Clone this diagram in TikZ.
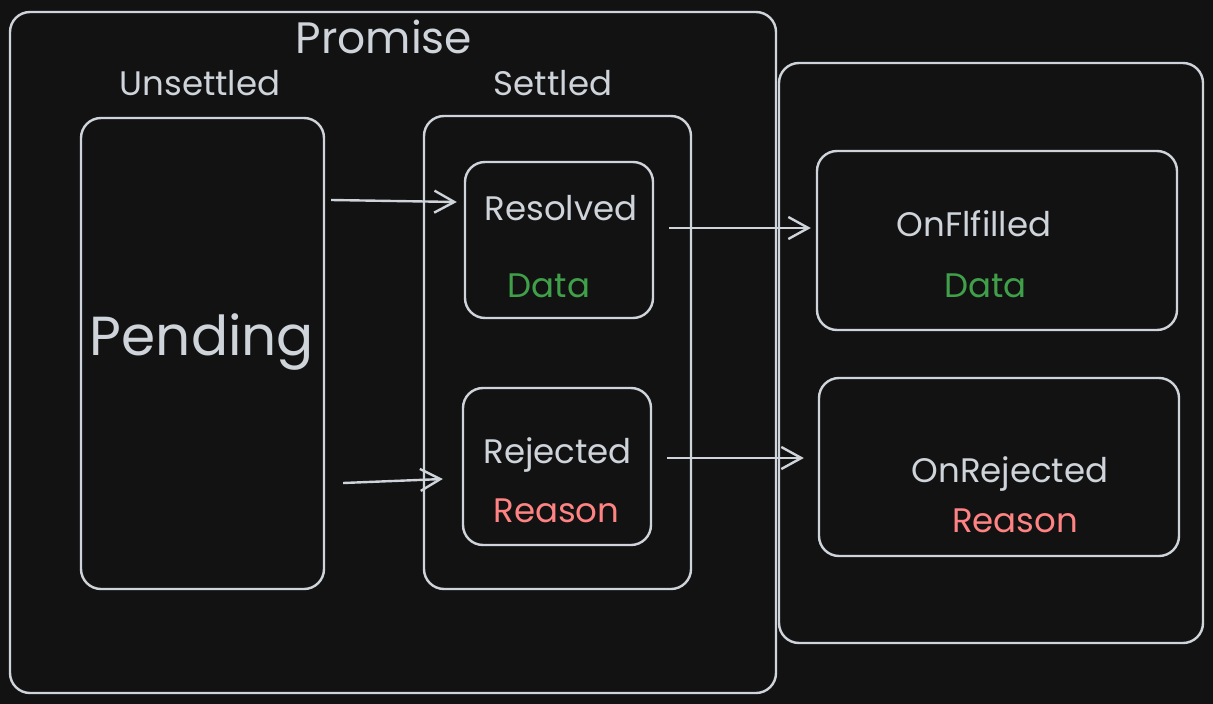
\documentclass[tikz,border=0pt]{standalone}
\usepackage{fontspec}
\setmainfont{Poppins}
\usetikzlibrary{arrows.meta,calc}
\definecolor{bg}{HTML}{121212}
\definecolor{ink}{HTML}{CED4DA}
\definecolor{okgreen}{HTML}{40A04A}
\definecolor{errred}{HTML}{FF8383}
\begin{document}
\begin{tikzpicture}[x=1pt,y=-1pt,
  box/.style={draw=ink, line width=2.4pt, rounded corners=20pt, inner sep=0pt},
  txt/.style={text=ink, anchor=base, inner sep=0pt, font=\fontsize{34}{40}\selectfont},
  big/.style={txt, font=\fontsize{44}{52}\selectfont},
  huge/.style={txt, font=\fontsize{55}{64}\selectfont},
  good/.style={txt, text=okgreen},
  bad/.style={txt, text=errred},
  arr/.style={draw=ink, line width=2.4pt, -{Straight Barb[length=20pt,width=22pt,line width=2.4pt]}}]
\fill[bg] (0,0) rectangle (1213,704);
\useasboundingbox (0,0) rectangle (1213,704);
% containers
\node[box, minimum width=766pt, minimum height=681pt] (promise) at (393,352.5) {};
\node[box, minimum width=424pt, minimum height=580pt] (handlers) at (991,353) {};
\node[box, minimum width=243pt, minimum height=471pt] (pending) at (202.5,353.5) {};
\node[box, minimum width=267pt, minimum height=473pt] (settled) at (557.5,352.5) {};
\node[box, minimum width=188pt, minimum height=156pt] (resolved) at (559,240) {};
\node[box, minimum width=188pt, minimum height=157pt] (rejected) at (557,466.5) {};
\node[box, minimum width=360pt, minimum height=179pt] (onful) at (997,240.5) {};
\node[box, minimum width=360pt, minimum height=178pt] (onrej) at (999,467) {};
% texts
\node[big] (tpromise) at (384,53) {Promise};
\node[txt] (tunsettled) at (200,95) {Unsettled};
\node[txt] (tsettled) at (553,95) {Settled};
\node[huge] (tpending) at (202,355) {Pending};
\node[txt] (tresolved) at (561,220) {Resolved};
\node[good] (tdata1) at (549,297) {Data};
\node[txt] (trejected) at (557.5,463) {Rejected};
\node[bad] (treason1) at (556.5,522) {Reason};
\node[txt] (tonful) at (974,236) {OnFlfilled};
\node[good] (tdata2) at (985.5,297) {Data};
\node[txt] (tonrej) at (1010,482) {OnRejected};
\node[bad] (treason2) at (1015,532) {Reason};
% arrows
\draw[arr] ($(pending.east)+(6,-153.5)$) -- ($(resolved.west)+(-7,-38)$);
\draw[arr] ($(pending.east)+(18,129.5)$) -- ($(rejected.west)+(-19,12.5)$);
\draw[arr] ($(resolved.east)+(15,-12)$) -- ($(onful.west)+(-5,-12.5)$);
\draw[arr] ($(rejected.east)+(15,-8.5)$) -- ($(onrej.west)+(-14,-9)$);
\end{tikzpicture}
\end{document}
